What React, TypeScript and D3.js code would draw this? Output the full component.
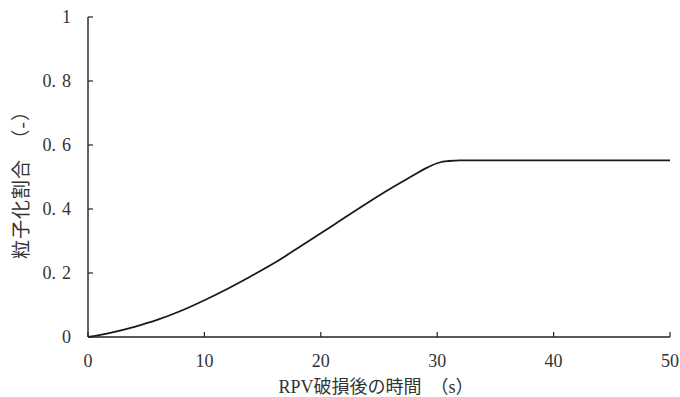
import React from "react";
import * as d3 from "d3";

const timeS = [0, 2, 4, 6, 8, 10, 12, 14, 16, 18, 20, 22, 24, 26, 28, 29, 30, 30.5, 31, 32, 40, 50];
const fraction = [0, 0.014, 0.032, 0.054, 0.082, 0.115, 0.151, 0.19, 0.231, 0.277, 0.324, 0.372, 0.419, 0.464, 0.506, 0.527, 0.543, 0.548, 0.55, 0.552, 0.552, 0.552];
const xTicks = [0, 10, 20, 30, 40, 50];
const yTicks = [0, 0.2, 0.4, 0.6, 0.8, 1];
const xTitle = "RPV破損後の時間　（s）";
const yTitle = "粒子化割合　（-）";

const W = 680;
const H = 397;
const M = { left: 88, right: 10, top: 17, bottom: 60 };

export default function App() {
  const x = d3.scaleLinear().domain([0, 50]).range([M.left, W - M.right]);
  const y = d3.scaleLinear().domain([0, 1]).range([H - M.bottom, M.top]);
  const line = d3
    .line<number>()
    .x((_, i) => x(timeS[i]))
    .y((d) => y(d))
    .curve(d3.curveMonotoneX);
  const numFont = "'Liberation Serif', 'DejaVu Serif', serif";
  const cjkFont = "'Liberation Serif', 'Noto Sans CJK JP', serif";
  return (
    <svg width={W} height={H} style={{ position: "absolute", left: 0, top: 0, background: "#fff" }}>
      <path d={line(fraction) || ""} fill="none" stroke="#1a1a1a" strokeWidth={1.8} />
      <line x1={x(0)} x2={x(0)} y1={y(0)} y2={y(1)} stroke="#222" strokeWidth={1.4} />
      <line x1={x(0)} x2={x(50)} y1={y(0)} y2={y(0)} stroke="#222" strokeWidth={1.4} />
      {yTicks.map((t) => {
        const s = String(t);
        const parts = s.includes(".") ? s.split(".") : null;
        return (
          <g key={"y" + t}>
            <line x1={x(0)} x2={x(0) + 5} y1={y(t)} y2={y(t)} stroke="#222" strokeWidth={1.2} />
            <text x={71} y={y(t) + 6} textAnchor="end" fontFamily={numFont} fontSize={18} fill="#333">
              {parts ? (
                <>
                  <tspan>{parts[0] + "."}</tspan>
                  <tspan dx={6}>{parts[1]}</tspan>
                </>
              ) : (
                s
              )}
            </text>
          </g>
        );
      })}
      {xTicks.map((t) => (
        <g key={"x" + t}>
          <line x1={x(t)} x2={x(t)} y1={y(0)} y2={y(0) - 5} stroke="#222" strokeWidth={1.2} />
          <text x={x(t)} y={367} textAnchor="middle" fontFamily={numFont} fontSize={18} fill="#333">
            {String(t)}
          </text>
        </g>
      ))}
      <text x={376} y={393} textAnchor="middle" fontFamily={cjkFont} fontSize={18} fill="#333">
        {xTitle}
      </text>
      <text
        transform={`translate(28, 180) rotate(-90)`}
        textAnchor="middle"
        fontFamily={cjkFont}
        fontSize={19}
        letterSpacing={1}
        fill="#333"
      >
        {yTitle}
      </text>
    </svg>
  );
}
